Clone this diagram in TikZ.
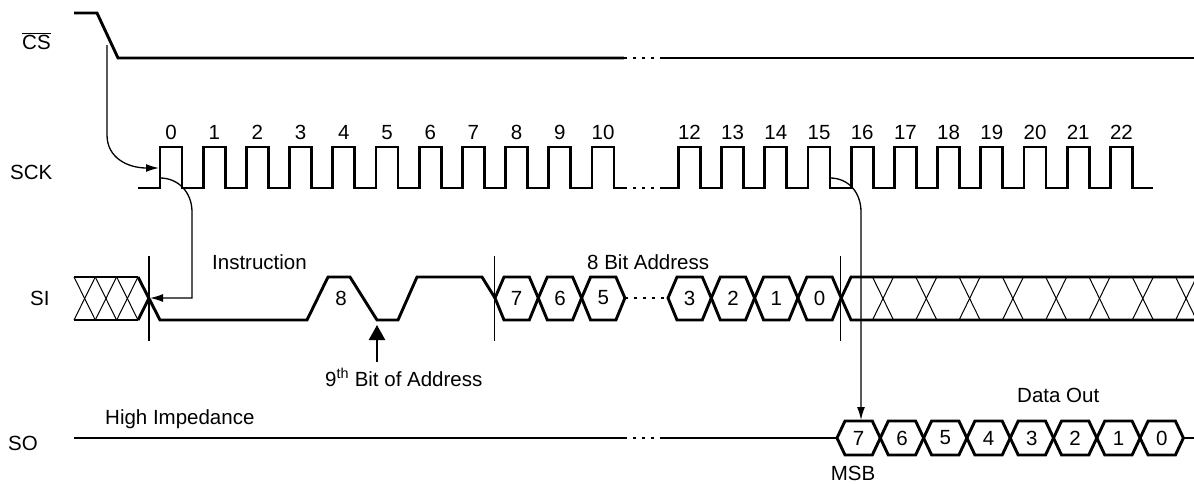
\documentclass[tikz,border=0pt]{standalone}
\usepackage{fontspec}
\setmainfont{Liberation Sans}
\usetikzlibrary{arrows.meta}
\tikzset{
	sig/.style={line width=2.9pt},
	hatch/.style={line width=1pt},
	tick/.style={line width=1.4pt},
	gapline/.style={line width=2.9pt, dash pattern=on 3pt off 6pt},
	lbl/.style={font=\fontsize{20.5}{24}\selectfont, inner sep=0pt},
	tarrow/.style={line width=1.3pt, -{Latex[length=13pt,width=8pt]}}
}
\begin{document}
\begin{tikzpicture}[x=1pt, y=-1pt]
		\useasboundingbox (0,0) rectangle (1194,485);
		%%%%% NAMES %%%%%
		\node[lbl, anchor=base west] (cs) at (22, 49) {$\overline{\mbox{CS}}$};
		\node[lbl, anchor=base west] (sck) at (10, 179) {SCK};
		\node[lbl, anchor=base west] (si) at (30, 305) {SI};
		\node[lbl, anchor=base west] (so) at (8, 450) {SO};
		
		%%%%% CS %%%%%
		\draw[sig] (74, 13) -- (97, 13) -- (118, 58) -- (624, 58);
		\draw[gapline] (624, 58) -- (660, 58);
		\draw[sig] (660, 58) -- (1194, 58);
		
		%%%%% SCK %%%%%
		\draw[sig] (138, 188) \foreach \k in {0,...,10} { -- ({160+43.2*\k}, 188) -- ({160+43.2*\k}, 147) -- ({182+43.2*\k}, 147) -- ({182+43.2*\k}, 188)} -- (624, 188);
		\draw[gapline] (624, 188) -- (660, 188);
		\draw[sig] (660, 188) \foreach \k in {12,...,22} { -- ({160+43.2*\k}, 188) -- ({160+43.2*\k}, 147) -- ({182+43.2*\k}, 147) -- ({182+43.2*\k}, 188)} -- (1153, 188);
		\foreach \k in {0,...,10} \node[lbl, anchor=base] (c\k) at ({171+43.2*\k}, 139) {\k};
		\foreach \k in {12,...,22} \node[lbl, anchor=base] (c\k) at ({171+43.2*\k}, 139) {\k};
		
		%%%%% SI %%%%%
		\draw[sig] (74, 277) -- (138, 277);
		\draw[sig] (74, 320) -- (138, 320);
		\foreach \x in {74, 95.3, 116.7} {
			\draw[hatch] (\x, 277) -- (\x+21.3, 320);
			\draw[hatch] (\x, 320) -- (\x+21.3, 277);
		}
		\draw[sig] (138, 320) -- (149, 298);
		\draw[sig] (138, 277) -- (160, 320) -- (307, 320) -- (328, 277) -- (350, 277) -- (377, 320) -- (398, 320) -- (417, 277) -- (482, 277) -- (495, 298);
		\node[lbl] (bit8) at (341, 298) {8};
		
		\foreach \x/\b in {495/7, 538.3/6, 581.6/5, 668/3, 711.3/2, 754.6/1, 797.9/0} {
			\draw[sig] (\x, 298) -- (\x+9, 277) -- (\x+34.3, 277) -- (\x+43.3, 298) -- (\x+34.3, 320) -- (\x+9, 320) -- cycle;
			\node[lbl] (si\b) at (\x+21.65, 298) {\b};
		}
		\draw[gapline] (625, 298) -- (668, 298);
		
		\draw[sig] (841.2, 298) -- (851, 277) -- (1194, 277);
		\draw[sig] (841.2, 298) -- (851, 320) -- (1194, 320);
		\foreach \c in {883, 926.3, 969.6, 1012.9, 1056.2, 1099.5, 1142.8, 1186.1} {
			\draw[hatch] (\c-10.5, 277) -- (\c+10.5, 320);
			\draw[hatch] (\c-10.5, 320) -- (\c+10.5, 277);
		}
		
		\draw[tick] (149, 256) -- (149, 341);
		\draw[tick] (494.3, 256) -- (494.3, 341);
		\draw[tick] (840.7, 256) -- (840.7, 341);
		
		\node[lbl, anchor=base west] (instr) at (212, 269) {Instruction};
		\node[lbl, anchor=base west] (addr) at (587, 269) {8 Bit Address};
		\node[lbl, anchor=base west] (ninth) at (325, 386) {9\textsuperscript{th} Bit of Address};
		\coordinate (ninthtip) at (377, 325);
		\draw[line width=2.4pt, -{Triangle[length=15pt,width=16pt]}] (377, 362) -- (ninthtip);
		
		%%%%% SO %%%%%
		\draw[sig] (73.5, 438) -- (624, 438);
		\draw[gapline] (624, 438) -- (660, 438);
		\draw[sig] (660, 438) -- (837, 438);
		\foreach \x/\b in {837/7, 880.3/6, 923.6/5, 966.9/4, 1010.2/3, 1053.5/2, 1096.8/1, 1140.1/0} {
			\draw[sig] (\x, 438) -- (\x+8, 421) -- (\x+35.3, 421) -- (\x+43.3, 438) -- (\x+35.3, 455) -- (\x+8, 455) -- cycle;
			\node[lbl] (so\b) at (\x+21.65, 438) {\b};
		}
		\draw[sig] (1183.4, 438) -- (1194, 438);
		\node[lbl, anchor=base west] (hiz) at (105, 424) {High Impedance};
		\node[lbl, anchor=base west] (dout) at (1017, 402) {Data Out};
		\node[lbl, anchor=base] (msb) at (853, 480) {MSB};
		
		%%%%% TIMING ARROWS %%%%%
		\coordinate (csdrop) at (107, 45);
		\coordinate (sckrise) at (159, 168);
		\coordinate (sckstart) at (160, 178);
		\coordinate (sicross) at (150, 298);
		\coordinate (sckfall) at (830, 178);
		\coordinate (sotop) at (861, 420);
		\draw[tarrow] (csdrop) -- (107, 135) .. controls (107, 158) and (128, 168) .. (sckrise);
		\draw[tarrow] (sckstart) .. controls (178, 178) and (192, 192) .. (192, 212) -- (192, 298) -- (sicross);
		\draw[tarrow] (sckfall) .. controls (848, 178) and (861, 192) .. (861, 212) -- (sotop);
\end{tikzpicture}
\end{document}
